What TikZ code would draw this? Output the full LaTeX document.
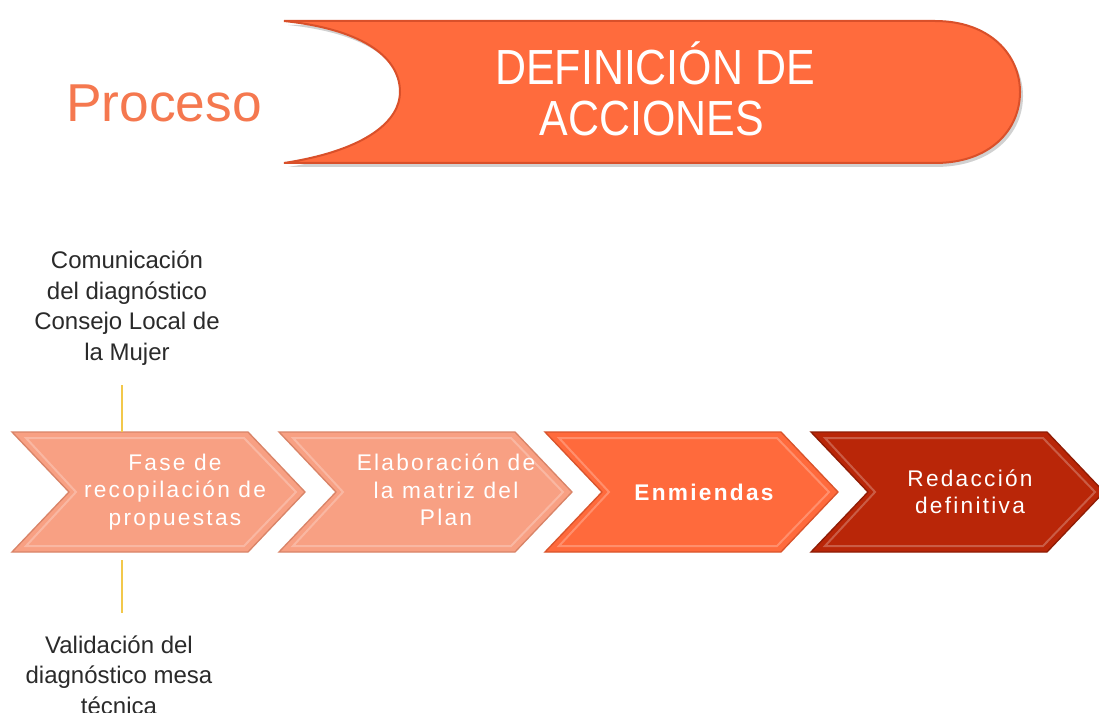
\documentclass[tikz,border=0pt]{standalone}
\usepackage{fontspec}
\setmainfont{Liberation Sans}
\newfontfamily\hdrfont[FakeStretch=0.87]{Liberation Sans}
\newfontfamily\chevfont[LetterSpace=10]{Liberation Sans}
\definecolor{hdrfill}{HTML}{FF6B3D}
\definecolor{hdrrim}{HTML}{D9502A}
\definecolor{procol}{HTML}{F5784F}
\definecolor{lightchev}{HTML}{F8A083}
\definecolor{lightrim}{HTML}{D98468}
\definecolor{midchev}{HTML}{FF6A3C}
\definecolor{midrim}{HTML}{D9542C}
\definecolor{darkchev}{HTML}{B92608}
\definecolor{darkrim}{HTML}{8E1C05}
\definecolor{sidetext}{HTML}{2A2A2A}
\definecolor{tick}{HTML}{F2C84B}
\tikzset{
  chevtext/.style={text=white, font=\chevfont\fontsize{17}{20.6}\selectfont, align=center, inner sep=0pt},
  sidelabel/.style={text=sidetext, font=\fontsize{18}{23}\selectfont, align=center, inner sep=0pt},
  tickline/.style={draw=tick, line width=0.8pt},
}
\begin{document}
\begin{tikzpicture}[x=0.75pt,y=-0.75pt]
\useasboundingbox (0,0) rectangle (1099,713);
\fill[white] (0,0) rectangle (1099,713);

% header banner
\fill[black!18] (288,25) -- (935,25) .. controls (992,25) and (1023,59) .. (1023,96)
  .. controls (1023,134) and (992,167) .. (935,167) -- (288,167)
  .. controls (372,154) and (403,124) .. (403,96) .. controls (403,64) and (372,34) .. (288,25) -- cycle;
\draw[fill=hdrfill, draw=hdrrim, line width=1.5pt]
  (284,21) -- (935,21) .. controls (990,21) and (1020,55) .. (1020,92)
  .. controls (1020,130) and (990,163) .. (935,163) -- (284,163)
  .. controls (368,150) and (400,120) .. (400,92) .. controls (400,60) and (368,30) .. (284,21) -- cycle;
\node[text=white, font=\hdrfont\fontsize{37}{37}\selectfont, inner sep=0pt] (hdr1) at (655,63) {DEFINICIÓN DE};
\node[text=white, font=\hdrfont\fontsize{37}{37}\selectfont, inner sep=0pt] (hdr2) at (652,119) {ACCIONES};

\node[text=procol, font=\fontsize{40}{40}\selectfont, inner sep=0pt] (proceso) at (164,103) {Proceso};

% chevrons
\foreach \xo/\fc/\rc in {12/lightchev/lightrim, 279/lightchev/lightrim, 545/midchev/midrim, 811/darkchev/darkrim}{
  \draw[fill=\fc, draw=\rc, line width=1pt]
    (\xo,432) -- ({\xo+236},432) -- ({\xo+293},492) -- ({\xo+236},552) -- (\xo,552) -- ({\xo+57},492) -- cycle;
  \draw[draw=white, opacity=0.25, line width=1.5pt]
    ({\xo+14},438) -- ({\xo+232},438) -- ({\xo+284},492) -- ({\xo+232},546) -- ({\xo+14},546) -- ({\xo+64},492) -- cycle;
}

\node[chevtext] (c1) at (175,492) {Fase de\\recopilación de\\propuestas};
\node[chevtext] (c2) at (446,490) {Elaboración de\\la matriz del\\Plan};
\node[chevtext, font=\chevfont\bfseries\fontsize{17}{20.6}\selectfont] (c3) at (704,492) {Enmiendas};
\node[chevtext] (c4) at (970,492) {Redacción\\definitiva};

% side labels
\node[sidelabel] (top) at (127,308) {Comunicación\\del diagnóstico\\Consejo Local de\\la Mujer};
\node[sidelabel] (bottom) at (119,675) {Validación del\\diagnóstico mesa\\técnica};

\coordinate (t1) at (122,385);
\coordinate (t2) at (122,432);
\coordinate (b1) at (122,560);
\coordinate (b2) at (122,613);
\draw[tickline] (t1) -- (t2);
\draw[tickline] (b1) -- (b2);
\end{tikzpicture}
\end{document}
